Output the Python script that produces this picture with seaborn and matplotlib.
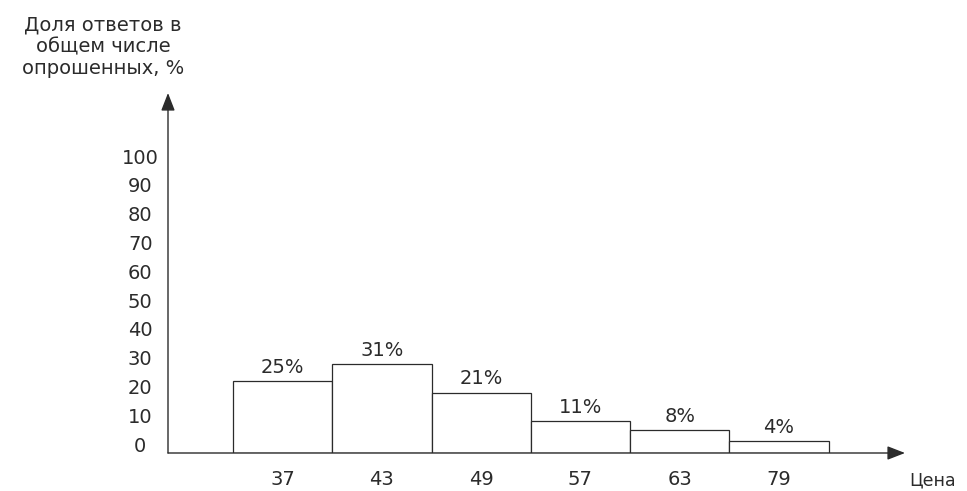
import matplotlib
matplotlib.use("Agg")
import matplotlib.pyplot as plt
import matplotlib.transforms as mtransforms
import seaborn as sns
import pandas as pd

# Survey data: price points and share of respondents
prices = ["37", "43", "49", "57", "63", "79"]
shares = [25, 31, 21, 11, 8, 4]
y_ticks = [0, 10, 20, 30, 40, 50, 60, 70, 80, 90, 100]

y_title = "Доля ответов в\nобщем числе\nопрошенных, %"
x_title = "Цена"

sns.set_theme(style="white")
plt.rcParams["font.family"] = ["DejaVu Sans"]
ink = "#2b2b2b"
fs = 14

df = pd.DataFrame({"price": prices, "share": shares})

fig = plt.figure(figsize=(9.67, 4.91), dpi=100)
ax = fig.add_axes([168 / 967, 38 / 491, 737 / 967, 360 / 491])

sns.barplot(data=df, x="price", y="share", order=prices, color="white",
            edgecolor=ink, linewidth=0.9, width=1.0, saturation=1, ax=ax)

ax.set_xlim(-1.155, 6.27)
ax.set_ylim(0, 125)

for s in ax.spines.values():
    s.set_visible(False)

# axes drawn as arrows
ax.annotate("", xy=(1, 0), xytext=(0, 0), xycoords="axes fraction",
            arrowprops=dict(arrowstyle="-|>,head_length=0.9,head_width=0.35",
                            color=ink, lw=1.0, shrinkA=0, shrinkB=0))
ax.annotate("", xy=(0, 1), xytext=(0, 0), xycoords="axes fraction",
            arrowprops=dict(arrowstyle="-|>,head_length=0.9,head_width=0.35",
                            color=ink, lw=1.0, shrinkA=0, shrinkB=0))

ax.set_yticks(y_ticks)
ax.set_yticklabels([str(t) for t in y_ticks])
ax.tick_params(axis="y", length=0, pad=20, labelsize=fs, labelcolor=ink)
ax.tick_params(axis="x", length=0, pad=12, labelsize=fs, labelcolor=ink)
for lab in ax.get_yticklabels():
    lab.set_horizontalalignment("center")
    lab.set_transform(lab.get_transform() +
                      mtransforms.ScaledTranslation(0, 9 / 100, fig.dpi_scale_trans))

ax.set_xlabel("")
ax.set_ylabel("")

ax.bar_label(ax.containers[0], labels=[f"{v}%" for v in shares],
             padding=3, fontsize=fs, color=ink)

fig.text(103 / 967, 1 - 47 / 491, y_title, ha="center", va="center",
         fontsize=fs, color=ink, linespacing=1.2)
fig.text(933 / 967, 1 - 480 / 491, x_title, ha="center", va="center",
         fontsize=12.5, color=ink)

fig.savefig("out.png", dpi=100, facecolor="white")
